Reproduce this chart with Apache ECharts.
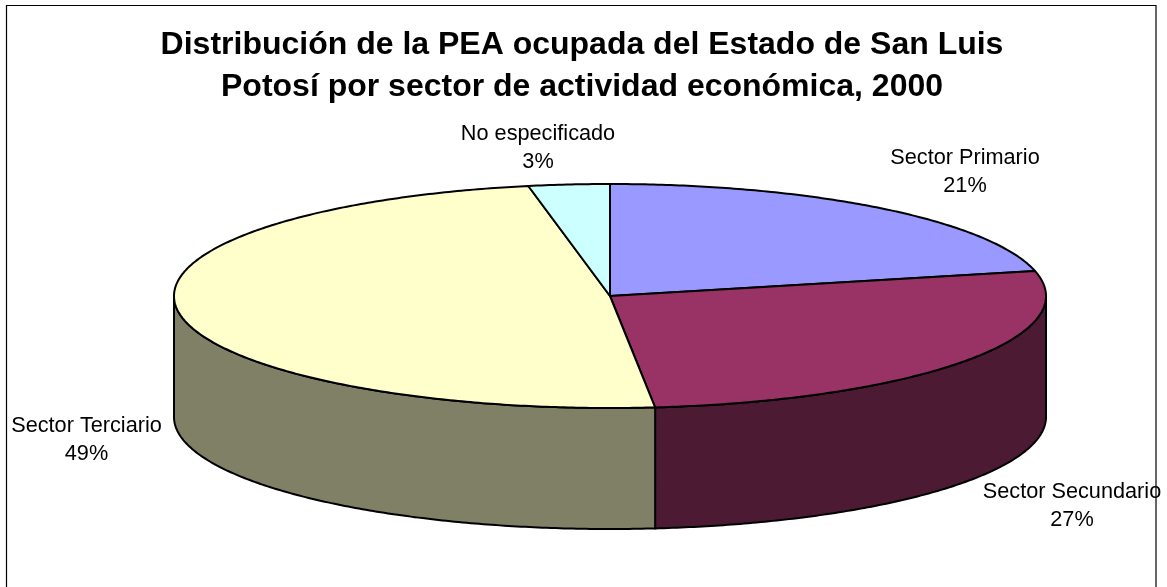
<!DOCTYPE html>
<html><head><meta charset="utf-8">
<style>html,body{margin:0;padding:0;background:#fff}#c{width:1167px;height:587px}</style>
<script src="https://cdn.jsdelivr.net/npm/echarts@6/dist/echarts.min.js"></script>
</head><body><div id="c"></div>
<script>
const categories = ['Sector Primario', 'Sector Secundario', 'Sector Terciario', 'No especificado'];
const values = [21.4, 26.95, 48.65, 3.0];
const topColors = ['#9999FF', '#993366', '#FFFFCC', '#CCFFFF'];
const wallColors = ['#4D4D80', '#4D1A33', '#808066', '#668080'];
const labelCenters = [[965, 172], [1072, 506], [86.5, 440], [538, 148]];

const CX = 610, CY = 296, RX = 436, RY = 112, DEPTH = 121;
const total = values.reduce((a, b) => a + b, 0);
const px = t => CX + RX * Math.sin(t);
const py = t => CY - RY * Math.cos(t);

function arc(a, b, dy) {
  const n = Math.max(2, Math.ceil(Math.abs(b - a) / 0.01));
  const out = [];
  for (let i = 0; i <= n; i++) {
    const t = a + (b - a) * i / n;
    out.push([px(t), py(t) + dy]);
  }
  return out;
}

function renderItem(params, api) {
  const i = params.dataIndex;
  const before = values.slice(0, i).reduce((a, b) => a + b, 0);
  const a = before / total * 2 * Math.PI;
  const b = (before + api.value(0)) / total * 2 * Math.PI;
  const children = [];
  const stroke = { stroke: '#000', lineWidth: 2, lineJoin: 'round' };
  // visible wall: the part of the rim on the front half of the ellipse
  const wa = Math.max(a, Math.PI / 2), wb = Math.min(b, 3 * Math.PI / 2);
  if (wb > wa) {
    const pts = arc(wa, wb, 0).concat(arc(wb, wa, DEPTH));
    children.push({ type: 'polygon', shape: { points: pts }, style: { fill: wallColors[i], ...stroke } });
  }
  const top = [[CX, CY]].concat(arc(a, b, 0));
  children.push({ type: 'polygon', shape: { points: top }, style: { fill: topColors[i], ...stroke } });
  const pct = Math.round(api.value(0) / total * 100);
  children.push({
    type: 'text', z2: 10,
    style: {
      text: categories[i] + '\n' + pct + '%',
      x: labelCenters[i][0], y: labelCenters[i][1],
      align: 'center', verticalAlign: 'middle',
      font: '21.7px "Liberation Sans", Arial, sans-serif', lineHeight: 28, fill: '#000'
    }
  });
  return { type: 'group', children };
}

const chart = echarts.init(document.getElementById('c'), null, { renderer: 'canvas' });
chart.setOption({
  animation: false,
  backgroundColor: '#fff',
  title: {
    text: 'Distribución de la PEA ocupada del Estado de San Luis\nPotosí por sector de actividad económica, 2000',
    left: 577, top: 19, textAlign: 'center',
    textStyle: { fontFamily: '"Liberation Sans", Arial, sans-serif', fontWeight: 'bold', fontSize: 32, lineHeight: 42, color: '#000' }
  },
  graphic: [
    { type: 'polyline', silent: true, z: -1, shape: { points: [[6.5, 587], [6.5, 5.5], [1156, 5.5], [1156, 587]] }, style: { fill: null, stroke: '#000', lineWidth: 1.2 } }
  ],
  series: [{
    type: 'custom',
    coordinateSystem: 'none',
    renderItem,
    silent: true,
    data: values.map(v => [v])
  }]
});
</script></body></html>
